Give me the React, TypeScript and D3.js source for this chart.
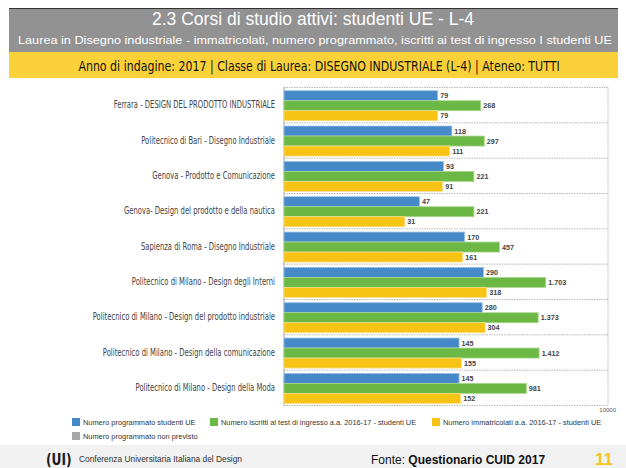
import React from 'react';
import * as d3 from 'd3';

const courses = [
  'Ferrara - DESIGN DEL PRODOTTO INDUSTRIALE',
  'Politecnico di Bari - Disegno Industriale',
  'Genova - Prodotto e Comunicazione',
  'Genova- Design del prodotto e della nautica',
  'Sapienza di Roma - Disegno Industriale',
  'Politecnico di Milano - Design degli Interni',
  'Politecnico di Milano - Design del prodotto industriale',
  'Politecnico di Milano - Design della comunicazione',
  'Politecnico di Milano - Design della Moda',
];

const programmato = [79, 118, 93, 47, 170, 290, 280, 145, 145];
const iscrittiTest = [268, 297, 221, 221, 457, 1703, 1373, 1412, 981];
const immatricolati = [79, 111, 91, 31, 161, 318, 304, 155, 152];

const seriesNames = ['programmato', 'iscritti', 'immatricolati'];
const seriesColors = ['#4589c8', '#6cb845', '#f7c314'];
const seriesStroke = ['#9cc3e6', '#a9d88f', '#fbe08a'];

const legendItems = [
  { label: 'Numero programmato studenti UE', color: '#4589c8' },
  { label: 'Numero iscritti al test di ingresso a.a. 2016-17 - studenti UE', color: '#6cb845' },
  { label: 'Numero immatricolati a.a. 2016-17 - studenti UE', color: '#f7c314' },
  { label: 'Numero programmato non previsto', color: '#a6a6a6' },
];

const W = 626;
const H = 468;
const plot = { left: 284, right: 608, top: 87.5, bottom: 405.5 };

const itFormat = d3.formatLocale({ decimal: ',', thousands: '.', grouping: [3], currency: ['€', ''] }).format(',d');

const condensed = '"DejaVu Sans Condensed", "Liberation Sans Narrow", "Arial Narrow", sans-serif';
const sans = '"Liberation Sans", Arial, Helvetica, sans-serif';

export default function App() {
  const x = d3.scaleLog().domain([1, 10000]).range([plot.left, plot.right]);
  const y = d3.scaleBand<string>().domain(courses).range([plot.top, plot.bottom]).paddingInner(0);
  const inner = d3.scaleBand<string>().domain(seriesNames).range([3.2, y.bandwidth() - 2.1]).padding(0);

  const rows = courses.map((c, i) => ({
    course: c,
    values: [programmato[i], iscrittiTest[i], immatricolati[i]],
  }));

  return (
    <svg width={W} height={H} style={{ position: 'absolute', left: 0, top: 0, background: '#fff' }}>
      {/* header */}
      <rect x={9} y={8} width={609} height={1} fill="#333" />
      <rect x={9} y={9} width={609} height={43} fill="#929292" />
      <text x={313} y={25} textAnchor="middle" fill="#fff" fontFamily={sans} fontSize={17.5}>
        2.3 Corsi di studio attivi: studenti UE - L-4
      </text>
      <text x={315} y={44} textAnchor="middle" fill="#fff" fontFamily={sans} fontSize={11.5}
        textLength={594} lengthAdjust="spacingAndGlyphs">
        Laurea in Disegno industriale - immatricolati, numero programmato, iscritti ai test di ingresso I studenti UE
      </text>
      <rect x={9} y={52} width={609} height={26} fill="#fbd13a" />
      <g transform="translate(319,70.5) scale(0.845,1)">
        <text x={0} y={0} textAnchor="middle" fill="#111" fontFamily={condensed} fontSize={14.5}>
          Anno di indagine: 2017 | Classe di Laurea: DISEGNO INDUSTRIALE (L-4) | Ateneo: TUTTI
        </text>
      </g>

      {/* plot frame */}
      <g fill="none" stroke="#b8b8b8" strokeWidth={1} strokeDasharray="1.5,1">
        <line x1={plot.left} x2={plot.right} y1={plot.top} y2={plot.top} />
        <line x1={plot.right} x2={plot.right} y1={plot.top} y2={plot.bottom} />
        {courses.map(c => (
          <line key={c} x1={plot.left} x2={plot.right} y1={(y(c) as number) + y.bandwidth()} y2={(y(c) as number) + y.bandwidth()} />
        ))}
      </g>
      <line x1={plot.left} x2={plot.left} y1={plot.top} y2={plot.bottom} stroke="#a0a0a0" />

      {rows.map(r => (
        <g key={r.course} transform={`translate(0,${y(r.course)})`}>
          <g transform={`translate(275,${y.bandwidth() / 2 + 3.3}) scale(0.76,1)`}>
            <text x={0} y={0} textAnchor="end" fill="#444" fontFamily={condensed} fontSize={10}>
              {r.course}
            </text>
          </g>
          {r.values.map((v, j) => {
            const by = inner(seriesNames[j]) as number;
            return (
              <g key={j}>
                <rect x={plot.left} y={by} width={x(v) - plot.left} height={inner.bandwidth()}
                  fill={seriesColors[j]} stroke={seriesStroke[j]} strokeWidth={0.8} />
                <text x={x(v) + 2.5} y={by + inner.bandwidth() / 2 + 2.5} fill="#444" fontFamily={sans}
                  fontWeight="bold" fontSize={7.2}>
                  {itFormat(v)}
                </text>
              </g>
            );
          })}
        </g>
      ))}

      <text x={616} y={412} textAnchor="end" fill="#555" fontFamily={sans} fontSize={6}>10000</text>

      {/* legend */}
      {legendItems.map((d, i) => {
        const pos = [[72, 418], [210, 418], [432, 418], [72, 432]][i];
        return (
          <g key={d.label} transform={`translate(${pos[0]},${pos[1]})`}>
            <rect width={8} height={8} fill={d.color} />
            <text x={11} y={7} fill="#333" fontFamily={sans} fontSize={7.4}>{d.label}</text>
          </g>
        );
      })}

      {/* footer */}
      <rect x={0} y={445} width={W} height={23} fill="#f1f1f1" />
      <g transform="translate(46,465) scale(0.85,1)">
        <text x={0} y={0} fill="#1a1a1a" fontFamily={condensed} fontWeight="bold" fontSize={16}>(UI)</text>
      </g>
      <text x={79} y={462} fill="#333" fontFamily={sans} fontSize={9} textLength={163} lengthAdjust="spacingAndGlyphs">
        Conferenza Universitaria Italiana del Design
      </text>
      <text x={371} y={464} fill="#111" fontFamily={sans} fontSize={12}>
        Fonte: <tspan fontWeight="bold">Questionario CUID 2017</tspan>
      </text>
      <text x={613} y={465} textAnchor="end" fill="#f5c518" fontFamily={sans} fontWeight="bold" fontSize={17}>11</text>
    </svg>
  );
}
